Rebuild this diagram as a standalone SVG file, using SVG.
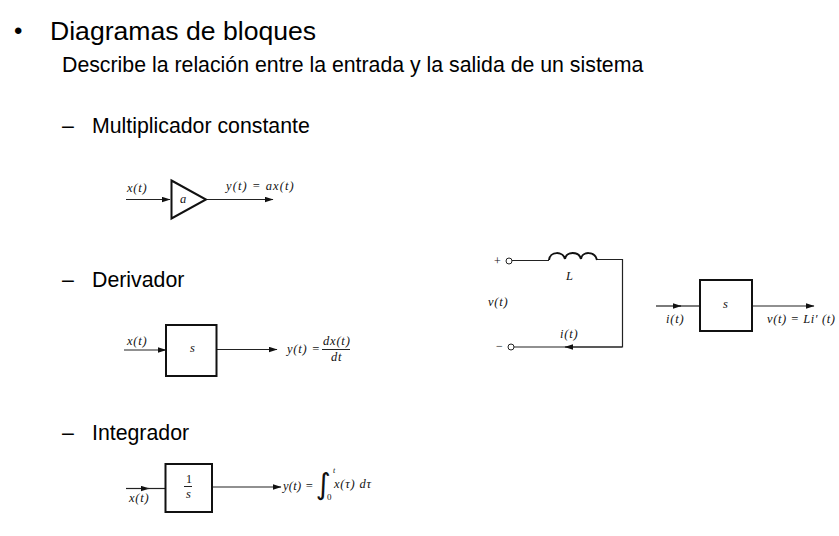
<svg xmlns="http://www.w3.org/2000/svg" width="839" height="536" viewBox="0 0 839 536">
<defs>
<marker id="arr" markerUnits="userSpaceOnUse" markerWidth="9" markerHeight="6" refX="8" refY="3" orient="auto"><path d="M0 0.300L8.500 3L0 5.700Z" fill="#111"/></marker>
</defs>
<style>
.h{font-family:"Liberation Sans",Arial,sans-serif;fill:#000;font-size:21.3px}
.m{font-family:"Liberation Serif","Times New Roman",serif;font-style:italic;font-size:12.5px;letter-spacing:.8px;fill:#111}
.u{font-family:"Liberation Serif","Times New Roman",serif;font-size:12px;fill:#111}
.b{fill:#fff;stroke:#111;stroke-width:2}
.c{fill:none;stroke:#222;stroke-width:1.2}
.a{marker-end:url(#arr)}
</style>
<rect width="839" height="536" fill="#fff"/>
<g id="headings">
<text class="h" x="14" y="39" style="font-size:24px">•</text>
<text class="h" x="50" y="40" style="font-size:26.600px">Diagramas de bloques</text>
<text class="h" x="62" y="72">Describe la relación entre la entrada y la salida de un sistema</text>
<text class="h" x="62" y="133">–</text>
<text class="h" x="92" y="133">Multiplicador constante</text>
<text class="h" x="62" y="287">–</text>
<text class="h" x="92" y="287">Derivador</text>
<text class="h" x="62" y="440">–</text>
<text class="h" x="92" y="440">Integrador</text>
</g>
<g id="connectors">
<path class="c a" d="M126 199.500H170"/>
<path class="c a" d="M206 199.500H273"/>
<path class="c a" d="M124 350H166"/>
<path class="c a" d="M217 349.500H277"/>
<path class="c a" d="M126 488.500H149"/>
<path class="c" d="M146 488.500H165"/>
<path class="c a" d="M212 487H281"/>
<path class="c a" d="M656 306H681"/>
<path class="c" d="M678 306H700"/>
<path class="c a" d="M752 306H814"/>
<path class="c" d="M512 260.500H549M596 259.500H622.500V347H514"/>
<path class="c a" d="M622 347H565"/>
<path d="M549 260c1-9 14-9 16-1 1-8 14-8 16 0 1-8 14-8 16 1" fill="none" stroke="#111" stroke-width="2"/>
</g>
<g id="multiplicador">
<path class="b" d="M171.500 180.500L206 199.500L171.500 218.500Z"/>
<text class="m" x="180" y="203">a</text>
<text class="m" x="127" y="192">x(t)</text>
<text class="m" x="226" y="190" style="letter-spacing:1.100px">y(t) = ax(t)</text>
</g>
<g id="derivador">
<rect class="b" x="166" y="325" width="50.500" height="51"/>
<text class="m" x="190" y="352">s</text>
<text class="m" x="127" y="345">x(t)</text>
<text class="m" x="287" y="353">y(t) =</text>
<text class="m" x="323" y="345">dx(t)</text>
<path d="M322 349.500H350" stroke="#222"/>
<text class="m" x="331" y="361">dt</text>
</g>
<g id="integrador">
<rect class="b" x="165.500" y="464" width="46.500" height="48"/>
<text class="u" x="186" y="483">1</text>
<path d="M184 486.500H192" stroke="#222"/>
<text class="m" x="186" y="498">s</text>
<text class="m" x="129" y="502">x(t)</text>
<text class="m" x="283" y="490" style="letter-spacing:.3px">y(t) =</text>
<text x="315.500" y="494" font-family="DejaVu Sans" font-size="29" fill="#111">∫</text>
<text class="m" x="333" y="473" style="font-size:8px">t</text>
<text class="u" x="327" y="500" style="font-size:9px">0</text>
<text class="m" x="334" y="488">x(τ) dτ</text>
</g>
<g id="circuito">
<circle cx="509" cy="261" r="3" fill="#fff" stroke="#222"/>
<circle cx="511" cy="347" r="3" fill="#fff" stroke="#222"/>
<text class="u" x="494" y="265">+</text>
<text class="u" x="496" y="350">−</text>
<text class="m" x="566" y="280">L</text>
<text class="m" x="488" y="306">v(t)</text>
<text class="m" x="560" y="338">i(t)</text>
</g>
<g id="bloque-inductor">
<rect class="b" x="700" y="280" width="52" height="51"/>
<text class="m" x="723" y="308">s</text>
<text class="m" x="666" y="323">i(t)</text>
<text class="m" x="767" y="323" style="letter-spacing:.6px">v(t) = Li′ (t)</text>
</g>
</svg>
